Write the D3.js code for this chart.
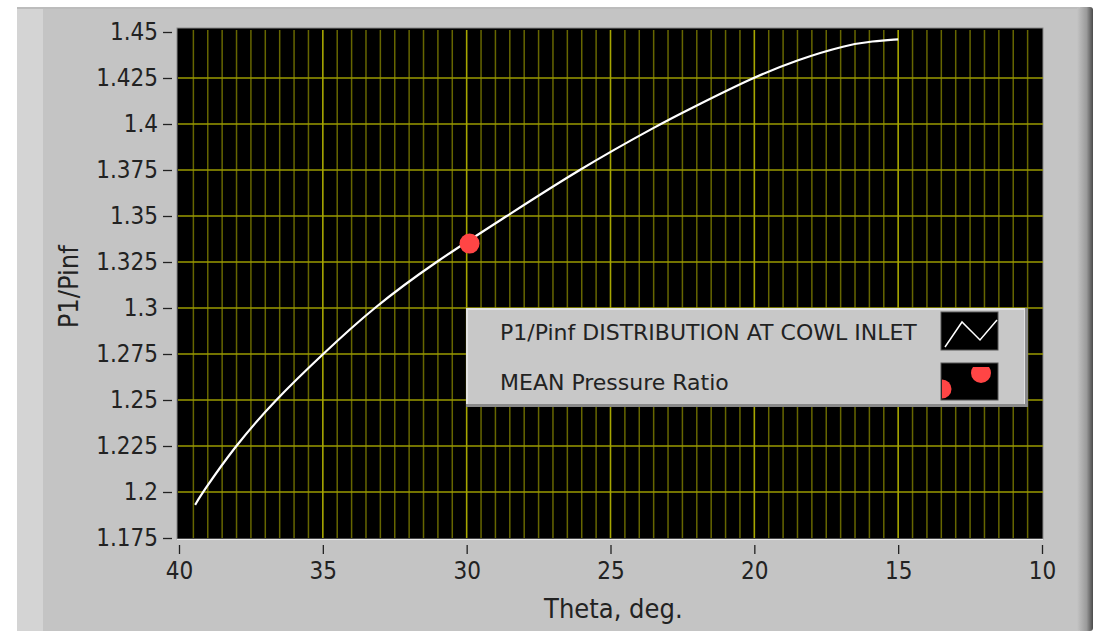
<!DOCTYPE html>
<html>
<head>
<meta charset="utf-8">
<script src="https://cdn.jsdelivr.net/npm/d3@7"></script>
<style>
  body { margin: 0; background: #fff; }
  svg text { font-family: "DejaVu Sans Condensed", "Liberation Sans Narrow", "DejaVu Sans", sans-serif; fill: #222; }
  svg text.label { font-family: "DejaVu Sans", sans-serif; }
</style>
</head>
<body>
<div id="chart"></div>
<script>
var svgWidth = 1095;
var svgHeight = 631;

// plot area inside the gray panel
var margin = { top: 30, right: 52, bottom: 92, left: 178 };
var width = 1043 - margin.left;
var height = 538 - margin.top;

// curve (theta in deg, P1/Pinf)
var thetaValues = [39.44, 39.17, 38.05, 36.66, 35.0, 33.26, 31.1, 28.6, 26.13, 23.28, 22.13, 20.08, 18.5, 16.78, 15.9, 15.0];
var ratioValues = [1.193, 1.200, 1.225, 1.250, 1.275, 1.300, 1.325, 1.350, 1.375, 1.400, 1.409, 1.425, 1.435, 1.443, 1.445, 1.446];

// mean pressure ratio point
var meanTheta = [29.9];
var meanRatio = [1.335];

var xTicks = [40, 35, 30, 25, 20, 15, 10];
var yTicks = [1.175, 1.2, 1.225, 1.25, 1.275, 1.3, 1.325, 1.35, 1.375, 1.4, 1.425, 1.45];
var legendLabels = ["P1/Pinf DISTRIBUTION AT COWL INLET", "MEAN Pressure Ratio"];

var svg = d3.select("#chart")
  .append("svg")
  .attr("width", svgWidth)
  .attr("height", svgHeight);

var defs = svg.append("defs");
var grad = defs.append("linearGradient").attr("id", "rightEdge");
grad.append("stop").attr("offset", "0%").attr("stop-color", "#c4c4c4");
grad.append("stop").attr("offset", "60%").attr("stop-color", "#9a9a9a");
grad.append("stop").attr("offset", "100%").attr("stop-color", "#4a4a4a");

// panel frame
svg.append("rect").attr("x", 17).attr("y", 7).attr("width", 1062).attr("height", 624).attr("fill", "#c4c4c4");
svg.append("rect").attr("x", 17).attr("y", 7).attr("width", 26).attr("height", 624).attr("fill", "#d4d4d4");
svg.append("rect").attr("x", 17).attr("y", 7).attr("width", 1062).attr("height", 2).attr("fill", "#bcbcbc");
svg.append("rect").attr("x", 1077).attr("y", 7).attr("width", 16).attr("height", 624).attr("rx", 3)
  .attr("fill", "url(#rightEdge)");

var chartGroup = svg.append("g")
  .attr("transform", `translate(${margin.left}, ${margin.top})`);

var xScale = d3.scaleLinear().domain([40, 10]).range([1, width - 1]);
var yScale = d3.scaleLinear().domain([1.175, 1.45]).range([height, 2]);

// plot background
chartGroup.append("rect")
  .attr("x", -1).attr("y", -2)
  .attr("width", width + 1).attr("height", height + 3)
  .attr("fill", "#000")
  .attr("stroke", "#8a8a8a").attr("stroke-width", 1);
chartGroup.append("line")
  .attr("x1", -1).attr("x2", width).attr("y1", height + 1.5).attr("y2", height + 1.5)
  .attr("stroke", "#e8e8e8").attr("stroke-width", 1);

// minor vertical grid every 0.5 deg
var minorX = d3.range(10, 40.01, 0.5).filter(d => d % 5 !== 0);
chartGroup.append("g").selectAll("line")
  .data(minorX)
  .enter().append("line")
  .attr("x1", d => xScale(d)).attr("x2", d => xScale(d))
  .attr("y1", 0).attr("y2", height)
  .attr("stroke", "#666600").attr("stroke-width", 1.5);

// major grid
chartGroup.append("g").selectAll("line")
  .data(yTicks.slice(1, -1))
  .enter().append("line")
  .attr("x1", 0).attr("x2", width)
  .attr("y1", d => yScale(d)).attr("y2", d => yScale(d))
  .attr("stroke", "#9a9a00").attr("stroke-width", 1.6);

chartGroup.append("g").selectAll("line")
  .data(xTicks.slice(1, -1))
  .enter().append("line")
  .attr("x1", d => xScale(d)).attr("x2", d => xScale(d))
  .attr("y1", 0).attr("y2", height)
  .attr("stroke", "#a6a600").attr("stroke-width", 1.6);

// axes
var bottomAxis = d3.axisBottom(xScale).tickValues(xTicks).tickSize(9).tickPadding(8).tickFormat(d3.format("d"));
var leftAxis = d3.axisLeft(yScale).tickValues(yTicks).tickSize(9).tickPadding(5).tickFormat(d => String(d));

var xAxis = chartGroup.append("g")
  .attr("transform", `translate(0, ${height + 7})`)
  .call(bottomAxis);
xAxis.select(".domain").remove();
xAxis.selectAll("line").attr("stroke", "#222").attr("stroke-width", 1.3);
xAxis.selectAll("text").attr("font-size", "24px").attr("fill", "#222");

var yAxis = chartGroup.append("g")
  .attr("transform", "translate(-6, 0)")
  .call(leftAxis);
yAxis.select(".domain").remove();
yAxis.selectAll("line").attr("stroke", "#222").attr("stroke-width", 1.3);
yAxis.selectAll("text").attr("font-size", "24px").attr("fill", "#222");

// axis titles
chartGroup.append("text")
  .attr("x", xScale(24.9))
  .attr("y", height + 80)
  .attr("text-anchor", "middle")
  .attr("font-size", "27px")
  .text("Theta, deg.");

chartGroup.append("text")
  .attr("transform", "rotate(-90)")
  .attr("x", -(yScale(1.3115)))
  .attr("y", -100)
  .attr("text-anchor", "middle")
  .attr("font-size", "27px")
  .text("P1/Pinf");

// curve
var line = d3.line()
  .x((d, i) => xScale(thetaValues[i]))
  .y((d, i) => yScale(ratioValues[i]))
  .curve(d3.curveBasis);

chartGroup.append("path")
  .datum(thetaValues)
  .attr("d", line)
  .attr("fill", "none")
  .attr("stroke", "#fff")
  .attr("stroke-width", 2.2);

// mean point
chartGroup.selectAll("circle.mean")
  .data(meanTheta)
  .enter().append("circle")
  .attr("class", "mean")
  .attr("cx", d => xScale(d))
  .attr("cy", (d, i) => yScale(meanRatio[i]))
  .attr("r", 10)
  .attr("fill", "#ff4545");

// legend
var legend = svg.append("g").attr("transform", "translate(466, 308)");
legend.append("rect").attr("width", 562).attr("height", 99).attr("fill", "#8a8a8a");
legend.append("rect").attr("width", 559).attr("height", 96).attr("fill", "#e2e2e2");
legend.append("rect").attr("x", 2).attr("y", 2).attr("width", 556).attr("height", 94).attr("fill", "#c8c8c8");

legend.selectAll("text.label")
  .data(legendLabels)
  .enter().append("text")
  .attr("class", "label")
  .attr("x", 34)
  .attr("y", (d, i) => 32 + i * 50)
  .attr("font-size", "22px")
  .text(d => d);

defs.append("clipPath").attr("id", "clipLeft")
  .append("rect").attr("x", 476).attr("y", 56).attr("width", 56).attr("height", 36);
defs.append("clipPath").attr("id", "clipTop")
  .append("rect").attr("x", 476).attr("y", 59).attr("width", 56).attr("height", 33);

legend.append("rect").attr("x", 475).attr("y", 4).attr("width", 57).attr("height", 38).attr("fill", "#000")
  .attr("stroke", "#555").attr("stroke-width", 1);
legend.append("polyline")
  .attr("points", "479,39 496,14 514,32 531,12")
  .attr("fill", "none").attr("stroke", "#fff").attr("stroke-width", 1.5);

legend.append("rect").attr("x", 475).attr("y", 55).attr("width", 57).attr("height", 37).attr("fill", "#000")
  .attr("stroke", "#555").attr("stroke-width", 1);
legend.append("circle").attr("cx", 476).attr("cy", 81).attr("r", 9.5).attr("fill", "#ff4545")
  .attr("clip-path", "url(#clipLeft)");
legend.append("circle").attr("cx", 515).attr("cy", 65).attr("r", 10).attr("fill", "#ff4545")
  .attr("clip-path", "url(#clipTop)");
</script>
</body>
</html>
